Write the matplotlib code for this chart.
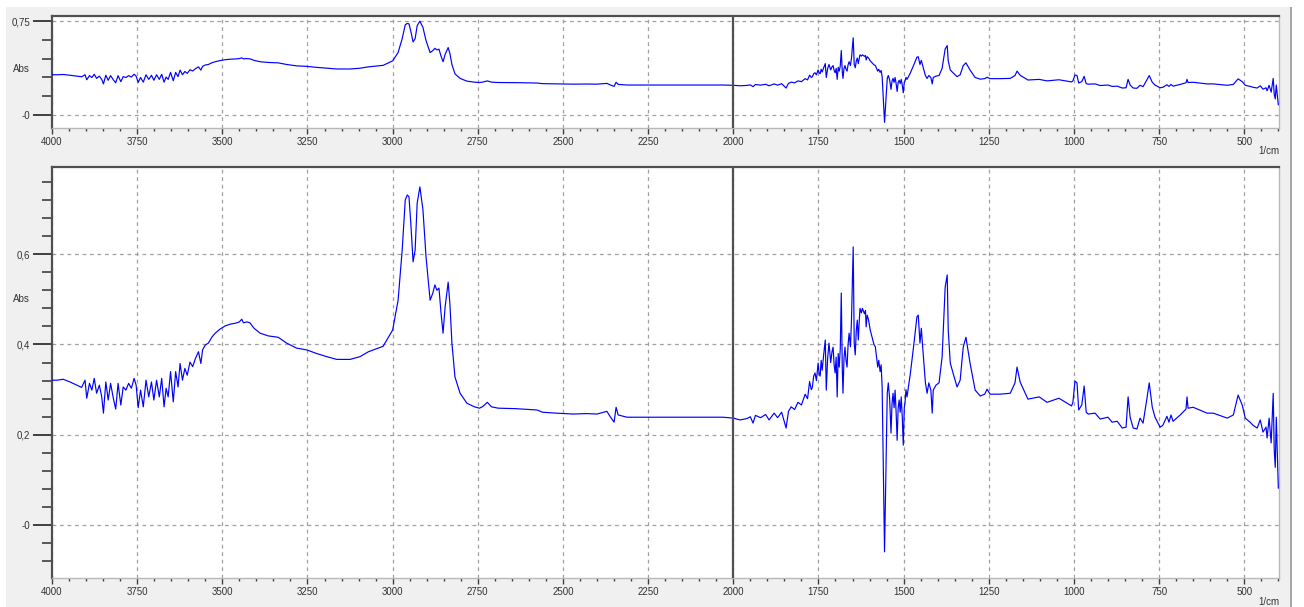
import matplotlib
matplotlib.use("Agg")
import matplotlib.pyplot as plt
from matplotlib.ticker import MultipleLocator, FixedLocator, FixedFormatter
from matplotlib.patches import Rectangle

plt.rcParams['font.family'] = ['Liberation Sans', 'DejaVu Sans']

# IR spectrum, wavenumber (1/cm) and absorbance, in three stretches
wn_high = [
    4000, 3985, 3967, 3947, 3927, 3913, 3903, 3898, 3890, 3883, 3876, 3869, 3861, 3854, 3849,
    3842, 3835, 3828, 3820, 3813, 3806, 3798, 3791, 3783, 3775, 3767, 3759, 3753, 3747, 3740,
    3732, 3724, 3716, 3708, 3701, 3693, 3685, 3678, 3671, 3665, 3659, 3652, 3644, 3637, 3630,
    3624, 3617, 3610, 3603, 3595, 3587, 3579, 3570, 3563, 3558, 3550, 3541, 3531, 3521, 3507,
    3492, 3477, 3462, 3450, 3443, 3438, 3428, 3419, 3407, 3389, 3365, 3336, 3311, 3282, 3252,
    3223, 3193, 3164, 3125, 3096, 3071, 3028, 3000, 2984, 2972, 2963, 2957, 2952, 2946, 2940,
    2934, 2928, 2920, 2911, 2902, 2890, 2882, 2876, 2870, 2864, 2858, 2852, 2846, 2837, 2832,
    2826, 2817, 2802, 2782, 2760, 2745, 2735, 2722, 2710, 2690, 2640, 2600, 2576, 2560, 2520,
    2470, 2430, 2400, 2371, 2362, 2350, 2344, 2338, 2312, 2200, 2100, 2030, 2000, 1980, 1960,
    1950, 1942, 1935, 1920, 1905, 1895, 1880, 1870, 1858, 1845, 1838, 1830, 1820, 1810, 1800,
]
ab_high = [
    0.321, 0.321, 0.323, 0.317, 0.310, 0.305, 0.321, 0.281, 0.314, 0.299, 0.325, 0.292, 0.310, 0.284, 0.248,
    0.317, 0.277, 0.314, 0.281, 0.257, 0.314, 0.266, 0.306, 0.299, 0.314, 0.303, 0.325, 0.310, 0.260, 0.299,
    0.262, 0.321, 0.284, 0.317, 0.277, 0.321, 0.284, 0.325, 0.262, 0.303, 0.284, 0.340, 0.273, 0.340, 0.306,
    0.358, 0.321, 0.347, 0.332, 0.361, 0.351, 0.369, 0.384, 0.358, 0.388, 0.399, 0.403, 0.416, 0.425, 0.434,
    0.441, 0.445, 0.447, 0.450, 0.456, 0.448, 0.450, 0.448, 0.436, 0.425, 0.419, 0.416, 0.403, 0.392, 0.388,
    0.380, 0.373, 0.367, 0.367, 0.373, 0.384, 0.396, 0.432, 0.498, 0.609, 0.720, 0.731, 0.727, 0.660, 0.583,
    0.609, 0.713, 0.749, 0.698, 0.594, 0.498, 0.514, 0.532, 0.520, 0.525, 0.470, 0.425, 0.483, 0.538, 0.491,
    0.403, 0.328, 0.292, 0.270, 0.262, 0.259, 0.263, 0.272, 0.262, 0.259, 0.258, 0.256, 0.255, 0.250, 0.248,
    0.246, 0.247, 0.246, 0.252, 0.241, 0.228, 0.261, 0.244, 0.239, 0.239, 0.239, 0.239, 0.237, 0.233, 0.236,
    0.240, 0.226, 0.243, 0.238, 0.245, 0.233, 0.248, 0.238, 0.250, 0.215, 0.252, 0.262, 0.256, 0.272, 0.266,
]

wn_mid = [
    1789, 1782, 1776, 1771, 1768, 1764, 1760, 1756, 1751, 1748,
    1745, 1742, 1739, 1735, 1730, 1727, 1723, 1719, 1714, 1710,
    1707, 1704, 1701, 1698, 1695, 1692, 1689, 1686, 1683, 1680,
    1678, 1675, 1672, 1669, 1666, 1663, 1660, 1656, 1653, 1651,
    1648, 1645, 1642, 1639, 1636, 1633, 1630, 1628, 1624, 1621,
    1619, 1615, 1612, 1610, 1607, 1603, 1598, 1592, 1587, 1583,
    1580, 1576, 1573, 1569, 1566, 1563, 1560, 1556, 1553, 1548,
    1545, 1541, 1537, 1534, 1531, 1528, 1525, 1522, 1519, 1516,
    1513, 1510, 1507, 1504, 1501, 1498, 1496, 1493, 1490,
]
ab_mid = [
    0.290, 0.280, 0.318, 0.300, 0.305, 0.330, 0.337, 0.320, 0.359, 0.335,
    0.330, 0.365, 0.343, 0.375, 0.410, 0.299, 0.370, 0.403, 0.360, 0.385,
    0.394, 0.355, 0.337, 0.372, 0.284, 0.380, 0.350, 0.390, 0.514, 0.345,
    0.292, 0.370, 0.394, 0.365, 0.350, 0.400, 0.425, 0.395, 0.455, 0.520,
    0.616, 0.403, 0.377, 0.430, 0.454, 0.410, 0.455, 0.480, 0.470, 0.480,
    0.476, 0.468, 0.475, 0.439, 0.465, 0.455, 0.432, 0.415, 0.400, 0.395,
    0.375, 0.350, 0.365, 0.340, 0.355, 0.306, 0.144, -0.059, 0.078, 0.292,
    0.315, 0.280, 0.204, 0.270, 0.292, 0.260, 0.299, 0.250, 0.188, 0.260,
    0.277, 0.250, 0.284, 0.240, 0.177, 0.260, 0.270, 0.300, 0.284,
]

wn_low = [
    1480, 1470, 1461, 1457, 1452, 1448, 1444, 1436, 1431, 1426, 1420, 1416,
    1413, 1405, 1396, 1387, 1378, 1372, 1369, 1363, 1355, 1343, 1334, 1325, 1317, 1305, 1290,
    1275, 1262, 1255, 1246, 1217, 1187, 1173, 1167, 1158, 1135, 1102, 1079, 1044, 1007, 1003,
    997, 991, 986, 977, 970, 964, 958, 938, 923, 900, 888, 873, 858, 847, 841,
    835, 826, 815, 806, 797, 785, 779, 770, 762, 747, 739, 727, 721, 715, 709,
    688, 671, 668, 665, 650, 609, 591, 550, 532, 518, 506, 497, 483, 474, 462,
    453, 445, 436, 433, 427, 421, 415, 412, 409, 406, 400,
]
ab_low = [
    0.337, 0.400, 0.461, 0.465, 0.403, 0.436, 0.394, 0.315, 0.292, 0.315, 0.299, 0.248,
    0.299, 0.310, 0.315, 0.372, 0.527, 0.554, 0.432, 0.359, 0.337, 0.306, 0.321, 0.394, 0.416, 0.359, 0.299,
    0.286, 0.290, 0.301, 0.290, 0.290, 0.292, 0.315, 0.350, 0.317, 0.279, 0.284, 0.272, 0.281, 0.264, 0.272,
    0.319, 0.315, 0.255, 0.266, 0.308, 0.250, 0.246, 0.248, 0.235, 0.239, 0.228, 0.230, 0.215, 0.217, 0.284,
    0.239, 0.215, 0.213, 0.237, 0.226, 0.284, 0.315, 0.261, 0.239, 0.217, 0.221, 0.241, 0.228, 0.244, 0.230,
    0.244, 0.257, 0.284, 0.259, 0.261, 0.248, 0.248, 0.237, 0.244, 0.288, 0.266, 0.237, 0.228, 0.221, 0.215,
    0.233, 0.206, 0.217, 0.193, 0.237, 0.182, 0.292, 0.166, 0.128, 0.239, 0.082,
]

wavenumber = wn_high + wn_mid + wn_low
absorbance = ab_high + ab_mid + ab_low

top_yticks = [0.0, 0.75]
top_ylabels = ['-0', '0,75']
bottom_yticks = [0.0, 0.2, 0.4, 0.6]
bottom_ylabels = ['-0', '0,2', '0,4', '0,6']

W, H = 1304, 607
fig = plt.figure(figsize=(W / 100, H / 100), dpi=100, facecolor='white')

# grey window background
fig.patches.append(Rectangle((6 / W, 0), 1285 / W, 600 / H, transform=fig.transFigure,
                             facecolor='#f0f0f0', edgecolor='none', zorder=-10))
fig.patches.append(Rectangle((1290 / W, 0), 1.5 / W, 600 / H, transform=fig.transFigure,
                             facecolor='#a8a8a8', edgecolor='none', zorder=-9))


def px_axes(left, top, right, bottom):
    return fig.add_axes([left / W, (H - bottom) / H, (right - left) / W, (bottom - top) / H])


ax_top = px_axes(52, 16, 1279, 128)
ax_bot = px_axes(52, 167, 1279, 578)


def style(ax, ylim, yticks, ylabels, minor_step):
    ax.set_facecolor('white')
    ax.plot(wavenumber, absorbance, color='#0000ff', lw=0.85, zorder=3)
    ax.set_xlim(4000, 398)
    ax.set_ylim(*ylim)
    ax.axvline(2000, color='#505050', lw=1.6, zorder=4)

    ax.xaxis.set_major_locator(MultipleLocator(250))
    ax.xaxis.set_minor_locator(MultipleLocator(50))
    ax.yaxis.set_major_locator(FixedLocator(yticks))
    ax.yaxis.set_major_formatter(FixedFormatter(ylabels))
    ax.yaxis.set_minor_locator(MultipleLocator(minor_step))

    ax.grid(True, which='major', color='#a0a0a0', lw=0.9, ls=(0, (3, 3)), zorder=1)
    ax.tick_params(axis='x', which='major', direction='out', length=4.5, width=1,
                   color='#404040', labelsize=7, labelcolor='#333333', pad=2)
    ax.tick_params(axis='x', which='minor', direction='out', length=2, width=1, color='#404040')
    ax.tick_params(axis='y', which='major', direction='out', length=13.5, width=1.4,
                   color='#404040', labelsize=7, labelcolor='#333333', pad=2)
    ax.tick_params(axis='y', which='minor', direction='out', length=7, width=1.2, color='#404040')

    for side in ('left', 'top'):
        ax.spines[side].set_color('#505050')
        ax.spines[side].set_linewidth(1.6)
    for side in ('right', 'bottom'):
        ax.spines[side].set_color('#b8b8b8')
        ax.spines[side].set_linewidth(1.0)


style(ax_top, (-0.104, 0.79), top_yticks, top_ylabels, 0.15)
style(ax_bot, (-0.117, 0.793), bottom_yticks, bottom_ylabels, 0.04)

for y in (69, 299):
    fig.text(21 / W, (H - y) / H, 'Abs', ha='center', va='center', fontsize=7, color='#333333')
for y in (151, 602):
    fig.text(1269 / W, (H - y) / H, '1/cm', ha='center', va='center', fontsize=7, color='#333333')

fig.savefig('out.png', dpi=100, facecolor=fig.get_facecolor())
